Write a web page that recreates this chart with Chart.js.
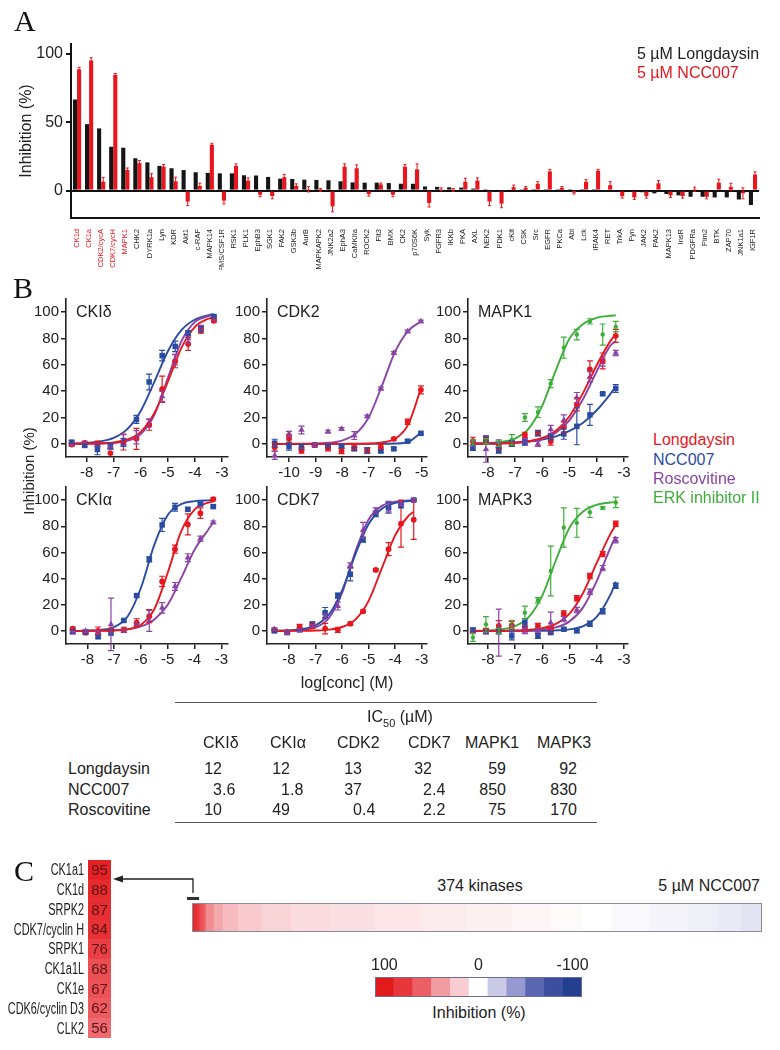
<!DOCTYPE html>
<html><head><meta charset="utf-8">
<script src="https://cdn.jsdelivr.net/npm/chart.js@4.4.1/dist/chart.umd.min.js"></script>
<style>
html,body{margin:0;padding:0;background:#fff}
body{width:780px;height:1050px;position:relative;overflow:hidden;font-family:"Liberation Sans",Arial,Helvetica,sans-serif;color:#222}
canvas{position:absolute;display:block}
.t{position:absolute;white-space:nowrap;line-height:1}
.hl{position:absolute;height:0;border-top:1.6px solid #555}
</style></head><body>
<script>
// ---------------- Panel A data ----------------
const kinasesA = ["CK1d","CK1a","CDK2/cycA","CDK7/cycH","MAPK1","CHK2","DYRK1a","Lyn","KDR","Akt1","c-RAF","MAPK14","FMS/CSF1R","RSK1","PLK1","EphB3","SGK1","FAK2","GSK3b","AurB","MAPKAPK2","JNK2a2","EphA3","CaMKIIa","ROCK2","Flt3","BMX","CK2","p70S6K","Syk","FGFR3","IKKb","PKA","AXL","NEK2","PDK1","cKit","CSK","Src","EGFR","PKCa","Abl","Lck","IRAK4","RET","TrkA","Fyn","JAK2","PAK2","MAPK13","InsR","PDGFRa","Pim2","BTK","ZAP70","JNK1a1","IGF1R"];
const longdaysinA = [66.5,48.5,45.4,32,31.3,23.6,20.6,18,16.3,15,13.4,12.9,12.6,12.6,11.2,11,10,8.7,8.5,8,7.8,7.5,6.8,6,5.8,5.8,5.5,5,5,3,2.7,2.4,2.2,1.5,1,0.7,0.8,0.5,0.4,0.3,0.2,0.2,0.2,0.1,-0.3,-0.5,-1,-1.2,-2,-2.5,-3.5,-4.5,-4.5,-5,-5,-6.5,-10.5];
const ncc007A = [88.5,95,6.5,84.5,15,20,9.8,17.5,6.8,-8,3.4,33.5,-7.3,18,7.3,-3,-4,9.8,3.4,1,0.5,-11.5,17.5,16.3,-2.5,4.5,-3,17.5,15.5,-9,1,0.5,6.5,7.3,-8,-9.5,2.5,2,5,14,2,-1.5,6.5,14.5,4,-4,-5,-4,5.3,-3.5,-4,1,-4.5,5.8,2.8,-2,11.7];
const ncc007AErr = [1.5,2,3,1,1.5,2,2.5,1.5,3,3,2,1,2.5,1.5,2,1.5,2,2,1.5,2,1,4,2,2.5,1.5,1,1.5,1.5,4,3,1,1,2.5,2,3,3,1.5,1,1.5,1.5,1,1,1.5,1,2.5,1.5,1.5,1.5,2,1.5,1.5,1.5,1.5,2.5,2.5,4,2];
const ticksA = [0,50,100];

// ---------------- Panel B data ----------------
const doseX = [-8.55,-8.07,-7.6,-7.12,-6.64,-6.16,-5.69,-5.21,-4.73,-4.25,-3.78,-3.3];
const doseXcdk2 = [-10.54,-10.0,-9.53,-9.03,-8.53,-8.02,-7.54,-7.05,-6.54,-6.05,-5.53,-5.03];
const fitX = [-8.55,-8,-7.5,-7,-6.5,-6,-5.5,-5,-4.5,-4,-3.5,-3.3];
const fitXcdk2 = [-10.54,-10,-9.5,-9,-8.5,-8,-7.5,-7,-6.5,-6,-5.5,-5.03];
const xTicks = [-8,-7,-6,-5,-4,-3];
const xTicksCdk2 = [-10,-9,-8,-7,-6,-5];
const yTicksB = [0,20,40,60,80,100];

// CKI delta
const ckid_long = [-0.5,0.8,0,-7,1.3,3.8,14.3,41.5,62.8,75.9,86,93.5];
const ckid_longErr = [1,1,2,0,6,8,4,10,5,5,2,1];
const ckid_longFit = [0,0.1,0.4,1.1,3.3,9.1,23.2,47.3,72.9,88.8,95,96];
const ckid_ncc = [1.3,-1.2,-4.3,-1.8,1,18.6,47,67,74,84,87,96.7];
const ckid_nccErr = [1,1,4,2,3,3,6,4,4,2,2,1];
const ckid_nccFit = [0.2,0.7,1.8,4.5,11.2,25,47,70.3,86.3,94.4,97.8,98.5];
const ckid_rosc = [-0.5,0.5,-1,-2,3,5,16,36,64,80,88,95];
const ckid_roscErr = [1,1,1,2,4,5,3,4,4,4,2,1];
const ckid_roscFit = [0,0.1,0.2,0.6,2.2,7.4,22,50,78,92.6,97,97.8];
// CDK2
const cdk2_long = [-2.5,3.8,-5,-0.8,-3.3,-5.5,-3,-5,-2.5,3.8,16.8,41];
const cdk2_longErr = [3,3,2,1,2,2,2,2,2,1,2,3];
const cdk2_longFit = [0,0,0,0,0,0,0.1,0.2,1.1,3.8,15,42];
const cdk2_ncc = [0.5,-1.8,-2.5,-1,-2,-2,-3.8,-5,-5.5,-3.8,2,8];
const cdk2_nccErr = [3,3,2,1,1,1,1,2,1,1,1,1];
const cdk2_nccFit = [0,0,0,0,0,0,0,0,0,0.2,1.5,8.5];
const cdk2_rosc = [-8.8,7.5,10.5,-1,9.3,11.3,6.3,20.8,42,69,85.4,93];
const cdk2_roscErr = [3,2,3,1,1,1,3,1,1,1,1,1];
const cdk2_roscFit = [0,0,0.1,0.25,0.8,2.5,7.4,20,44,70,86,93];
// MAPK1
const mapk1_long = [2,2.5,-2.5,0.5,6.8,8.3,2,12.6,30,56.5,63,82];
const mapk1_longErr = [3,2,2,2,2,2,3,4,5,6.5,6,5];
const mapk1_longFit = [0.1,0.15,0.35,0.8,2,4.5,10,21,38.7,59.7,78,83.4];
const mapk1_ncc = [-3,3.8,-5,0,1,8,5,7.5,13.3,22,38,42];
const mapk1_nccErr = [2,2,2,2,2,2,2,4,14,8,1,3];
const mapk1_nccFit = [0.2,0.3,0.6,1.1,1.9,3.3,5.7,9.8,16,25.5,37.8,43.4];
const mapk1_rosc = [0,-4,0,0.5,2,0,11,18,35,50.8,62,69];
const mapk1_roscErr = [2,10,3,2,2,2,3,4,4,4,3,2];
const mapk1_roscFit = [0.05,0.12,0.3,0.7,1.6,3.8,8.4,18,34,55,74.5,78];
const mapk1_erk = [1,2,0,3,20,24,45.7,73,83,93,83,89];
const mapk1_erkErr = [2,2,2,4,3,4,3,8,4,2,8,4];
const mapk1_erkFit = [0.2,0.6,1.5,4,11.5,29,56,80,91,95.7,97.3,97.5];
// CKI alpha
const ckia_long = [1.8,-1.3,0,0.8,0.8,6.3,11.3,37.8,62.5,81.4,90,100.7];
const ckia_longErr = [1,1,3,1,2,3,5,4,3,8,4,1];
const ckia_longFit = [0,0,0.1,0.3,1.2,4.8,16.7,44.5,76,92.7,98,98.9];
const ckia_ncc = [0,-1.2,-4.5,-1.2,8,27,54.7,81,94.5,93,97,95];
const ckia_nccErr = [1,1,1,2,1,1,2,5,3,1,1,1];
const ckia_nccFit = [0,0.2,0.8,3,11,33,66,88.6,96.9,99.2,99.8,99.9];
const ckia_rosc = [-1.3,0,-1,5,0,5,7.6,17.6,34,56,70.5,83];
const ckia_roscErr = [1,1,1,20,1,1,8,4,3,3,2,1];
const ckia_roscFit = [0,0.1,0.2,0.5,1.3,3.4,8.7,20,40.3,62,77,83];
// CDK7
const cdk7_long = [0.8,-0.8,3,3.8,1.8,0.8,5.5,15,46.6,62.5,82,85];
const cdk7_longErr = [1,1,2,2,4,2,1,1,1,5,18,15];
const cdk7_longFit = [0,0,0.1,0.3,1,3,8.6,23,48,73,88,91];
const cdk7_ncc = [0,-1.3,0.8,5,13.9,27,43.3,69.8,89.4,94,96,100];
const cdk7_nccErr = [1,1,1,2,4,2,5,2,2,4,2,1];
const cdk7_nccFit = [0.1,0.45,1.4,4.3,12.4,31,58.5,81.7,93.4,97.8,99.3,99.6];
const cdk7_rosc = [1.3,-1,0.5,3.8,11,19,50,77,92,95,97,100];
const cdk7_roscErr = [1,1,1,1,2,3,2,6,2,4,1,1];
const cdk7_roscFit = [0.05,0.2,0.8,2.8,9.7,29,60.5,85.2,95.6,98.8,99.7,99.8];
// MAPK3
const mapk3_long = [0,0,3.8,4.3,1.8,3.8,1.3,13.4,25,42,58.7,81.9];
const mapk3_longErr = [1,2,4,3,2,2,2,2,2,2,2,2];
const mapk3_longFit = [0,0.04,0.1,0.3,0.8,2.1,5.4,13.2,29,52,74,81];
const mapk3_ncc = [0.8,-0.5,0,-3.8,6.3,-3.8,-1.3,1.3,0,5.5,15,34.5];
const mapk3_nccErr = [1,1,2,3,3,2,1,1,1,2,2,2];
const mapk3_nccFit = [0,0,0,0,0,0.1,0.4,1.2,3.7,10.7,27.5,37.6];
const mapk3_rosc = [0,-1,-1.3,2,0,0,6.3,9,16,30,48,69.3];
const mapk3_roscErr = [1,1,18,2,2,2,8,2,2,2,2,2];
const mapk3_roscFit = [0,0,0.04,0.12,0.35,1,2.7,7.3,18,38,63.5,72.4];
const mapk3_erk = [-5,5,0,5,13.9,23.4,45.8,79,82.6,90.7,94,98.2];
const mapk3_erkErr = [3,6,2,3,5,2,19,15,11,4,1,4];
const mapk3_erkFit = [0.1,0.4,1.2,3.6,10.5,27,54,78.8,91.2,96.4,98.2,98.5];

// ---------------- Table data ----------------
const ic50Kinases = ["CKIδ","CKIα","CDK2","CDK7","MAPK1","MAPK3"];
const ic50Compounds = ["Longdaysin","NCC007","Roscovitine"];
const ic50Longdaysin = [12,12,13,32,59,92];
const ic50NCC007 = [3.6,1.8,37,2.4,850,830];
const ic50Roscovitine = [10,49,0.4,2.2,75,170];

// ---------------- Panel C data ----------------
const topKinases = ["CK1a1","CK1d","SRPK2","CDK7/cyclin H","SRPK1","CK1a1L","CK1e","CDK6/cyclin D3","CLK2"];
const topInhib = [95,88,87,84,76,68,67,62,56];
const stripCounts = [1,1,1,1,1,1,1,1,1,5,6,10,15,20,25,30,30,30,30,25,20,20,25,25,20,15,14];
const stripInhib = [95,88,87,84,76,68,67,62,56,45,35,27,21,17,14,12,10,8,6,4,2,0,-2,-4,-6,-8,-10];
const legendVals = [100,80,60,40,20,0,-20,-40,-60,-80,-100];

// ================= rendering =================
const FONT = '"Liberation Sans", Arial, Helvetica, sans-serif';
Chart.defaults.font.family = FONT;
Chart.defaults.color = '#222';
Chart.defaults.animation = false;

const RED = '#e8161e', BLUE = '#2a4ca3', PURPLE = '#8a43a6', GREEN = '#3daf3a';

function addCanvas(left, top, w, h){
  const c = document.createElement('canvas');
  c.width = w; c.height = h;
  c.style.left = left + 'px'; c.style.top = top + 'px';
  c.style.width = w + 'px'; c.style.height = h + 'px';
  document.body.appendChild(c);
  return c;
}
function addText(html, x, y, o){
  o = o || {};
  const d = document.createElement('div');
  d.className = 't';
  d.innerHTML = html;
  d.style.fontSize = (o.size || 16) + 'px';
  d.style.color = o.color || '#222';
  if (o.font) d.style.fontFamily = o.font;
  const tx = o.align === 'center' ? '-50%' : (o.align === 'right' ? '-100%' : '0');
  d.style.left = x + 'px'; d.style.top = y + 'px';
  d.style.transform = 'translate(' + tx + ',-50%)' + (o.rot ? ' rotate(' + o.rot + 'deg)' : '');
  document.body.appendChild(d);
  return d;
}
function hline(x, y, w){
  const d = document.createElement('div'); d.className = 'hl';
  d.style.left = x + 'px'; d.style.top = y + 'px'; d.style.width = w + 'px';
  document.body.appendChild(d);
}

const errPlugin = {
  id: 'errbars',
  afterDatasetsDraw(chart){
    const ctx = chart.ctx, ys = chart.scales.y;
    chart.data.datasets.forEach((ds, di) => {
      if (!ds.errs) return;
      const meta = chart.getDatasetMeta(di);
      ctx.save();
      ctx.strokeStyle = ds.errColor || ds.borderColor || ds.backgroundColor;
      ctx.lineWidth = ds.errWidth || 1.2;
      meta.data.forEach((el, i) => {
        const e = ds.errs[i]; if (!e) return;
        const raw = ds.data[i];
        const v = (raw !== null && typeof raw === 'object') ? raw.y : raw;
        const y1 = ys.getPixelForValue(v + e), y2 = ys.getPixelForValue(v - e);
        const x = el.x, cw = ds.capW || 3;
        ctx.beginPath();
        ctx.moveTo(x, y1); ctx.lineTo(x, y2);
        ctx.moveTo(x - cw, y1); ctx.lineTo(x + cw, y1);
        ctx.moveTo(x - cw, y2); ctx.lineTo(x + cw, y2);
        ctx.stroke();
      });
      ctx.restore();
    });
  }
};

// ---------- Panel A ----------
(function(){
  const c = addCanvas(0, 30, 780, 252);
  new Chart(c, {
    type: 'bar',
    data: { labels: kinasesA, datasets: [
      { label: '5 µM Longdaysin', data: longdaysinA, backgroundColor: '#151515', barPercentage: 1, categoryPercentage: 0.68 },
      { label: '5 µM NCC007', data: ncc007A, backgroundColor: RED, errs: ncc007AErr, errColor: RED, capW: 1.5, errWidth: 1, barPercentage: 1, categoryPercentage: 0.68 }
    ]},
    options: {
      responsive: false, devicePixelRatio: 1,
      layout: { padding: { top: 14, right: 21, left: 0, bottom: 12 } },
      plugins: { legend: { display: false }, tooltip: { enabled: false } },
      scales: {
        x: {
          afterFit: s => { s.height = 52; },
          grid: { display: false },
          border: { display: true, color: '#111', width: 2 },
          ticks: { autoSkip: false, minRotation: 90, maxRotation: 90, font: { size: 7.5 }, padding: 3,
                   color: ctx => ctx.index < 5 ? RED : '#222' }
        },
        y: {
          min: -20, max: 107,
          afterBuildTicks: s => { s.ticks = ticksA.map(v => ({ value: v })); },
          afterFit: s => { s.width = 71; },
          grid: { color: ctx => (ctx.tick && ctx.tick.value === 0) ? '#111' : 'rgba(0,0,0,0)', lineWidth: 2, tickColor: '#111', tickLength: 5 },
          border: { display: true, color: '#111', width: 2 },
          title: { display: true, text: 'Inhibition (%)', font: { size: 16 }, color: '#222', padding: { top: 17, bottom: 0 } },
          ticks: { font: { size: 16 }, color: '#222', padding: 3 }
        }
      }
    },
    plugins: [errPlugin]
  });
  addText('5 µM Longdaysin', 637, 54, { size: 16 });
  addText('5 µM NCC007', 637, 73, { size: 16, color: RED });
})();

// ---------- Panel B ----------
function dosePanel(o){
  const YW = 46, XH = 28, PT = 8, PR = 12;
  const c = addCanvas(o.L - YW, o.T - PT, YW + o.W + PR, PT + o.H + XH);
  const ds = [];
  o.series.forEach(s => {
    ds.push({ type: 'scatter', data: o.px.map((x, i) => ({ x: x, y: s.pts[i] })), errs: s.err, errColor: s.color,
      pointStyle: s.style, pointRadius: s.r, backgroundColor: s.color, borderColor: s.color, borderWidth: 0, showLine: false });
  });
  o.series.forEach(s => {
    ds.push({ type: 'line', data: o.cx.map((x, i) => ({ x: x, y: s.fit[i] })), borderColor: s.color, borderWidth: 1.9,
      pointRadius: 0, cubicInterpolationMode: 'monotone', fill: false });
  });
  const axisGrid = { drawOnChartArea: false, drawTicks: true, tickLength: 5, color: '#222', lineWidth: 1.5 };
  new Chart(c, {
    type: 'scatter',
    data: { datasets: ds },
    options: {
      responsive: false, devicePixelRatio: 1,
      layout: { padding: { top: PT, right: PR, left: 0, bottom: 0 } },
      plugins: { legend: { display: false }, tooltip: { enabled: false } },
      scales: {
        x: { type: 'linear', min: o.xmin, max: o.xmax,
          afterBuildTicks: s => { s.ticks = o.xt.map(v => ({ value: v })); },
          afterFit: s => { s.height = XH; },
          grid: axisGrid, border: { display: true, color: '#222', width: 1.6 },
          ticks: { font: { size: 15 }, color: '#222', padding: 2, maxRotation: 0, autoSkip: false } },
        y: { min: -10, max: 110,
          afterBuildTicks: s => { s.ticks = yTicksB.map(v => ({ value: v })); },
          afterFit: s => { s.width = YW; },
          grid: axisGrid, border: { display: true, color: '#222', width: 1.6 },
          ticks: { font: { size: 15 }, color: '#222', padding: 2 } }
      }
    },
    plugins: [errPlugin]
  });
  addText(o.title, o.L + 10, o.T + 16, { size: 16 });
}
function S(pts, err, fit, color, style, r){ return { pts: pts, err: err, fit: fit, color: color, style: style, r: r }; }
const mkLong = (p, e, f) => S(p, e, f, RED, 'circle', 2.9);
const mkNcc = (p, e, f) => S(p, e, f, BLUE, 'rect', 3.9);
const mkRosc = (p, e, f) => S(p, e, f, PURPLE, 'triangle', 3.7);
const mkErk = (p, e, f) => S(p, e, f, GREEN, 'circle', 2.2);

const colL = [66, 267, 468], colW = [162, 160, 160], rowT = [296, 484], rowH = [161, 160];
dosePanel({ L: colL[0], T: rowT[0], W: colW[0], H: rowH[0], xmin: -8.76, xmax: -2.78, xt: xTicks, px: doseX, cx: fitX, title: 'CKIδ',
  series: [mkLong(ckid_long, ckid_longErr, ckid_longFit), mkRosc(ckid_rosc, ckid_roscErr, ckid_roscFit), mkNcc(ckid_ncc, ckid_nccErr, ckid_nccFit)] });
dosePanel({ L: colL[1], T: rowT[0], W: colW[1], H: rowH[0], xmin: -10.83, xmax: -4.8, xt: xTicksCdk2, px: doseXcdk2, cx: fitXcdk2, title: 'CDK2',
  series: [mkLong(cdk2_long, cdk2_longErr, cdk2_longFit), mkNcc(cdk2_ncc, cdk2_nccErr, cdk2_nccFit), mkRosc(cdk2_rosc, cdk2_roscErr, cdk2_roscFit)] });
dosePanel({ L: colL[2], T: rowT[0], W: colW[2], H: rowH[0], xmin: -8.73, xmax: -2.85, xt: xTicks, px: doseX, cx: fitX, title: 'MAPK1',
  series: [mkLong(mapk1_long, mapk1_longErr, mapk1_longFit), mkRosc(mapk1_rosc, mapk1_roscErr, mapk1_roscFit), mkNcc(mapk1_ncc, mapk1_nccErr, mapk1_nccFit), mkErk(mapk1_erk, mapk1_erkErr, mapk1_erkFit)] });
dosePanel({ L: colL[0], T: rowT[1], W: colW[0], H: rowH[1], xmin: -8.8, xmax: -2.75, xt: xTicks, px: doseX, cx: fitX, title: 'CKIα',
  series: [mkLong(ckia_long, ckia_longErr, ckia_longFit), mkNcc(ckia_ncc, ckia_nccErr, ckia_nccFit), mkRosc(ckia_rosc, ckia_roscErr, ckia_roscFit)] });
dosePanel({ L: colL[1], T: rowT[1], W: colW[1], H: rowH[1], xmin: -8.83, xmax: -2.8, xt: xTicks, px: doseX, cx: fitX, title: 'CDK7',
  series: [mkLong(cdk7_long, cdk7_longErr, cdk7_longFit), mkNcc(cdk7_ncc, cdk7_nccErr, cdk7_nccFit), mkRosc(cdk7_rosc, cdk7_roscErr, cdk7_roscFit)] });
dosePanel({ L: colL[2], T: rowT[1], W: colW[2], H: rowH[1], xmin: -8.73, xmax: -2.85, xt: xTicks, px: doseX, cx: fitX, title: 'MAPK3',
  series: [mkLong(mapk3_long, mapk3_longErr, mapk3_longFit), mkRosc(mapk3_rosc, mapk3_roscErr, mapk3_roscFit), mkNcc(mapk3_ncc, mapk3_nccErr, mapk3_nccFit), mkErk(mapk3_erk, mapk3_erkErr, mapk3_erkFit)] });

addText('Inhibition (%)', 28, 471, { size: 15, align: 'center', rot: -90 });
addText('log[conc] (M)', 347, 683, { size: 16, align: 'center' });
addText('Longdaysin', 653, 440, { size: 16, color: RED });
addText('NCC007', 653, 459.5, { size: 16, color: BLUE });
addText('Roscovitine', 653, 479, { size: 16, color: PURPLE });
addText('ERK inhibitor II', 653, 498, { size: 16, color: GREEN });

// ---------- Table ----------
hline(175, 702, 422);
hline(175, 822, 422);
addText('IC<sub style="font-size:11px">50</sub> (µM)', 400, 719, { size: 16, align: 'center' });
const headL = [203, 270, 337, 408, 465, 537];
ic50Kinases.forEach((k, i) => addText(k, headL[i], 743, { size: 16 }));
const anchors = [222, 290, 362, 432, 506, 577];
const rowY = [769, 790, 810];
[ic50Longdaysin, ic50NCC007, ic50Roscovitine].forEach((vals, r) => {
  addText(ic50Compounds[r], 68, rowY[r], { size: 16 });
  vals.forEach((v, i) => {
    const parts = String(v).split('.');
    addText(parts[0], anchors[i], rowY[r], { size: 16, align: 'right' });
    if (parts[1]) addText('.' + parts[1], anchors[i], rowY[r], { size: 16 });
  });
});

// ---------- Panel C ----------
const heatStops = [
  [100, [227, 26, 28]], [80, [232, 55, 60]], [60, [236, 95, 100]], [40, [241, 156, 160]], [20, [248, 204, 208]],
  [0, [255, 255, 255]], [-20, [200, 202, 230]], [-40, [149, 153, 207]], [-60, [91, 102, 176]], [-80, [59, 79, 158]], [-100, [36, 63, 143]]
];
function heatColor(v){
  for (let i = 0; i < heatStops.length - 1; i++){
    const a = heatStops[i], b = heatStops[i + 1];
    if (v <= a[0] && v >= b[0]){
      const t = (a[0] - v) / (a[0] - b[0]);
      const c = a[1].map((x, k) => Math.round(x + (b[1][k] - x) * t));
      return 'rgb(' + c.join(',') + ')';
    }
  }
  return v > 100 ? 'rgb(227,26,28)' : 'rgb(36,63,143)';
}
const cellText = {
  id: 'cellText',
  afterDatasetsDraw(chart){
    const ds = chart.data.datasets[0]; if (!ds.vals) return;
    const ctx = chart.ctx, meta = chart.getDatasetMeta(0), ys = chart.scales.y;
    const cx = (chart.chartArea.left + chart.chartArea.right) / 2;
    ctx.save(); ctx.textBaseline = 'middle';
    meta.data.forEach((el, i) => {
      ctx.fillStyle = '#5e1414'; ctx.font = '15px ' + FONT; ctx.textAlign = 'center';
      ctx.fillText(String(ds.vals[i]), cx, el.y + 1);
      // narrow kinase name label, right-aligned next to the column
      ctx.save();
      ctx.translate(chart.chartArea.left - 4, ys.getPixelForValue(i) + 1);
      ctx.scale(0.68, 1);
      ctx.fillStyle = '#222'; ctx.font = '16px ' + FONT; ctx.textAlign = 'right';
      ctx.fillText(chart.data.labels[i], 0, 0);
      ctx.restore();
    });
    ctx.restore();
  }
};
const framePlugin = {
  id: 'frame',
  afterDraw(chart, args, opts){
    if (!opts || !opts.color) return;
    const a = chart.chartArea, ctx = chart.ctx;
    ctx.save(); ctx.strokeStyle = opts.color; ctx.lineWidth = 1;
    ctx.strokeRect(Math.round(a.left) + 0.5, Math.round(a.top) + 0.5, Math.round(a.right - a.left) - 1, Math.round(a.bottom - a.top) - 1);
    ctx.restore();
  }
};
(function(){
  const c = addCanvas(0, 858, 113, 182);
  new Chart(c, {
    type: 'bar',
    data: { labels: topKinases, datasets: [{ data: topInhib.map(() => [0, 1]), vals: topInhib, backgroundColor: topInhib.map(heatColor), borderWidth: 0, barPercentage: 1, categoryPercentage: 1 }] },
    options: {
      indexAxis: 'y', responsive: false, devicePixelRatio: 1,
      layout: { padding: { top: 2, right: 2, bottom: 2, left: 0 } },
      plugins: { legend: { display: false }, tooltip: { enabled: false } },
      scales: {
        x: { display: false, min: 0, max: 1 },
        y: { afterFit: s => { s.width = 88; }, grid: { display: false }, border: { display: false },
             ticks: { display: false } }
      }
    },
    plugins: [cellText]
  });
})();
(function(){
  const c = addCanvas(190, 900, 574, 36);
  new Chart(c, {
    type: 'bar',
    data: { labels: ['kinases'], datasets: stripCounts.map((n, i) => ({ data: [n], backgroundColor: heatColor(stripInhib[i]), borderColor: heatColor(stripInhib[i]), borderWidth: 0, barPercentage: 1, categoryPercentage: 1 })) },
    options: {
      indexAxis: 'y', responsive: false, devicePixelRatio: 1,
      layout: { padding: { left: 2, right: 2, top: 3, bottom: 4 } },
      plugins: { legend: { display: false }, tooltip: { enabled: false }, frame: { color: '#8a8a9a' } },
      scales: { x: { stacked: true, display: false, min: 0, max: 374 }, y: { stacked: true, display: false } }
    },
    plugins: [framePlugin]
  });
})();
addText('374 kinases', 480, 886, { size: 16, align: 'center' });
addText('5 µM NCC007', 760, 886, { size: 16, align: 'right' });
(function(){
  const c = addCanvas(360, 940, 240, 60);
  new Chart(c, {
    type: 'bar',
    data: { labels: legendVals.map(String), datasets: [{ data: legendVals.map(() => [0, 1]), backgroundColor: legendVals.map(heatColor), borderWidth: 0, barPercentage: 1, categoryPercentage: 1 }] },
    options: {
      responsive: false, devicePixelRatio: 1,
      layout: { padding: { left: 15, right: 18, top: 0, bottom: 3 } },
      plugins: { legend: { display: false }, tooltip: { enabled: false }, frame: { color: '#6a6f9a' } },
      scales: {
        x: { position: 'top', afterFit: s => { s.height = 37; },
             grid: { display: false, drawTicks: false, tickLength: 0 }, border: { display: false },
             ticks: { font: { size: 16 }, color: '#222', padding: 2, autoSkip: false, maxRotation: 0,
                      callback: (v, i) => (i === 0 || i === 5 || i === 10) ? String(legendVals[i]) : '' } },
        y: { display: false, min: 0, max: 1 }
      }
    },
    plugins: [framePlugin]
  });
})();
addText('Inhibition (%)', 479, 1013, { size: 16, align: 'center' });

// arrow + marker (annotation)
(function(){
  const ns = 'http://www.w3.org/2000/svg';
  const svg = document.createElementNS(ns, 'svg');
  svg.setAttribute('width', '780'); svg.setAttribute('height', '1050');
  svg.style.position = 'absolute'; svg.style.left = '0'; svg.style.top = '0'; svg.style.pointerEvents = 'none';
  svg.innerHTML = '<path d="M193 893 L193 879 L122 879" fill="none" stroke="#222" stroke-width="1.3"/>' +
    '<path d="M113 879 L123 875.5 L123 882.5 Z" fill="#222"/>' +
    '<rect x="187" y="897" width="12" height="3" fill="#333"/>';
  document.body.appendChild(svg);
})();

// panel letters
const serif = '"Liberation Serif","Times New Roman",serif';
addText('A', 14, 21, { size: 30, font: serif, color: '#111' });
addText('B', 13, 288, { size: 30, font: serif, color: '#111' });
addText('C', 14, 871, { size: 30, font: serif, color: '#111' });
</script>
</body></html>
